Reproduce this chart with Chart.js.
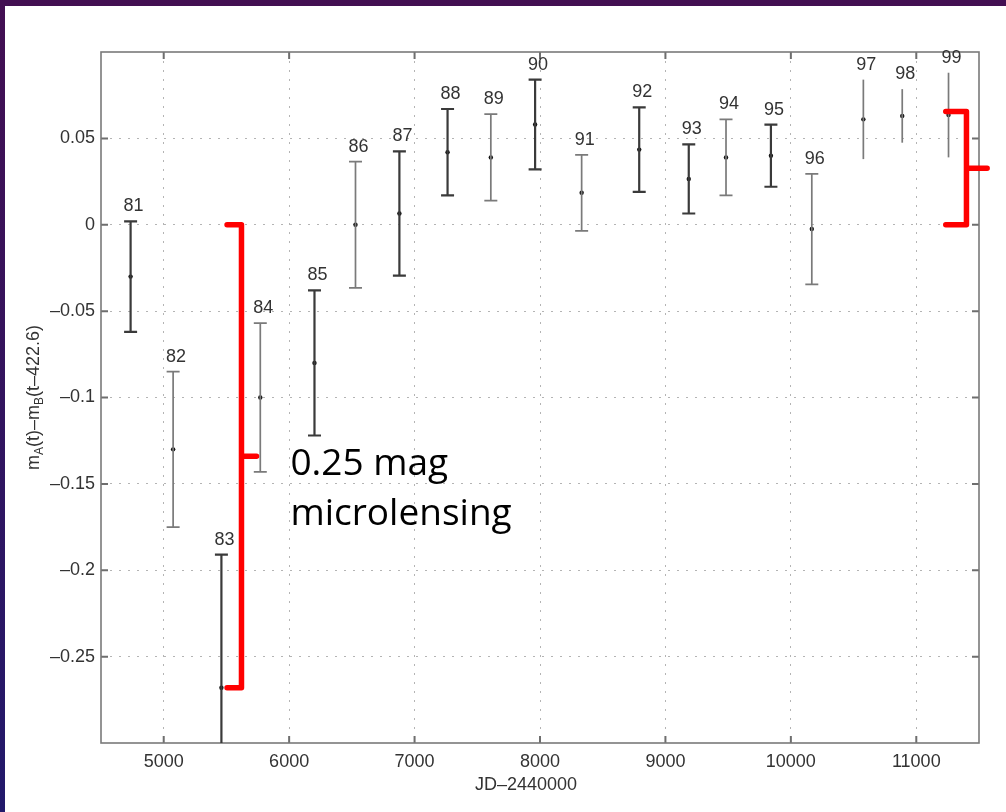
<!DOCTYPE html>
<html>
<head>
<meta charset="utf-8">
<script src="https://cdn.jsdelivr.net/npm/chart.js@4.4.1/dist/chart.umd.min.js"></script>
<style>
  html, body { margin: 0; padding: 0; }
  body {
    width: 1006px; height: 812px; overflow: hidden; position: relative;
    background: linear-gradient(to bottom, #430f52, #22196b);
  }
  #panel { position: absolute; left: 5px; top: 6px; width: 1001px; height: 806px; background: #fff; }
</style>
</head>
<body>
<div id="panel"><canvas id="mainChart" width="1001" height="806"></canvas></div>
<script>
// Dados das epocas (lente gravitacional, quasar duplo)
const epocas = ['81','82','83','84','85','86','87','88','89','90','91','92','93','94','95','96','97','98','99'];
const jd = [4736, 5075, 5460, 5770, 6202, 6529, 6879, 7263, 7608, 7961, 8332, 8791, 9186, 9483, 9841, 10167, 10578, 10888, 11257];
const dmag = [-0.030, -0.130, -0.268, -0.100, -0.080, 0.000, 0.0065, 0.042, 0.039, 0.058, 0.0185, 0.0435, 0.0265, 0.039, 0.040, -0.0025, 0.061, 0.063, 0.0635];
const erro = [0.032, 0.045, 0.077, 0.043, 0.042, 0.0365, 0.036, 0.025, 0.025, 0.026, 0.022, 0.0245, 0.020, 0.022, 0.018, 0.032, 0.023, 0.0155, 0.0245];

// Ticks dos eixos
const xTicks = [5000, 6000, 7000, 8000, 9000, 10000, 11000];
const yTicks = [-0.25, -0.2, -0.15, -0.1, -0.05, 0, 0.05];
const yTickLabels = ['\u20130.25', '\u20130.2', '\u20130.15', '\u20130.1', '\u20130.05', '0', '0.05'];

// estilo: barras mais escuras / sem tampa
const barrasEscuras = ['81','83','85','87','88','90','92','93','95'];
const semTampa = ['97','98','99'];

const fonte = '"Liberation Sans", Arial, sans-serif';

// Anotacoes em vermelho (em unidades dos eixos)
const anotacao = {
  esquerda: { x: 5620, gancho: 5505, traco: 5740, de: 0, ate: -0.268 },
  direita: { x: 11400, gancho: 11235, traco: 11565, de: 0, ate: 0.0655 },
  texto: ['0.25 mag', 'microlensing'],
  textoX: 6010,
  textoY: [-0.1446, -0.1738]
};

// 1. barras de erro + numeros das epocas
const barrasErro = {
  id: 'barrasErro',
  afterDatasetsDraw(chart) {
    const { ctx, chartArea: a, scales: { x, y } } = chart;
    ctx.save();
    ctx.beginPath();
    ctx.rect(a.left, a.top, a.right - a.left, a.bottom - a.top);
    ctx.clip();
    epocas.forEach((ep, i) => {
      const px = x.getPixelForValue(jd[i]);
      const topo = y.getPixelForValue(dmag[i] + erro[i]);
      const base = y.getPixelForValue(dmag[i] - erro[i]);
      const escura = barrasEscuras.includes(ep);
      ctx.strokeStyle = escura ? '#3a3a3a' : '#7a7a7a';
      ctx.lineWidth = escura ? 2.2 : 1.7;
      ctx.beginPath();
      ctx.moveTo(px, topo);
      ctx.lineTo(px, base);
      if (!semTampa.includes(ep)) {
        ctx.moveTo(px - 6.5, topo); ctx.lineTo(px + 6.5, topo);
        ctx.moveTo(px - 6.5, base); ctx.lineTo(px + 6.5, base);
      }
      ctx.stroke();
    });
    ctx.restore();

    ctx.save();
    ctx.font = '18px ' + fonte;
    ctx.fillStyle = '#333';
    ctx.textAlign = 'center';
    ctx.textBaseline = 'alphabetic';
    epocas.forEach((ep, i) => {
      const px = x.getPixelForValue(jd[i]);
      const topo = y.getPixelForValue(dmag[i] + erro[i]);
      ctx.fillText(ep, px + 3, topo - 10);
    });
    ctx.restore();
  }
};

// 2. moldura com ticks para dentro + titulos dos eixos
const moldura = {
  id: 'moldura',
  beforeDatasetsDraw(chart) {
    const { ctx, chartArea: a, scales: { x, y } } = chart;
    ctx.save();
    ctx.strokeStyle = '#6e6e6e';
    ctx.lineWidth = 2;
    ctx.beginPath();
    x.ticks.forEach(t => {
      const px = x.getPixelForValue(t.value);
      ctx.moveTo(px, a.bottom); ctx.lineTo(px, a.bottom - 7);
      ctx.moveTo(px, a.top); ctx.lineTo(px, a.top + 7);
    });
    y.ticks.forEach(t => {
      const py = y.getPixelForValue(t.value);
      ctx.moveTo(a.left, py); ctx.lineTo(a.left + 7, py);
      ctx.moveTo(a.right, py); ctx.lineTo(a.right - 7, py);
    });
    ctx.stroke();
    ctx.lineWidth = 1.6;
    ctx.strokeStyle = '#7a7a7a';
    ctx.strokeRect(a.left, a.top, a.right - a.left, a.bottom - a.top);
    ctx.restore();

    // titulo do eixo x
    ctx.save();
    ctx.font = '18px ' + fonte;
    ctx.fillStyle = '#333';
    ctx.textAlign = 'center';
    ctx.fillText('JD\u20132440000', (a.left + a.right) / 2 - 14, a.bottom + 47);
    ctx.restore();

    // titulo do eixo y com subscritos
    const partes = [['m', 0], ['A', 1], ['(t)\u2013m', 0], ['B', 1], ['(t\u2013422.6)', 0]];
    const fN = '18px ' + fonte, fS = '12px ' + fonte;
    ctx.save();
    let total = 0;
    partes.forEach(p => { ctx.font = p[1] ? fS : fN; total += ctx.measureText(p[0]).width; });
    ctx.translate(a.left - 62, (a.top + a.bottom) / 2);
    ctx.rotate(-Math.PI / 2);
    ctx.fillStyle = '#333';
    let cx = -total / 2;
    partes.forEach(p => {
      ctx.font = p[1] ? fS : fN;
      ctx.fillText(p[0], cx, p[1] ? 4 : 0);
      cx += ctx.measureText(p[0]).width;
    });
    ctx.restore();
  }
};

// 3. colchetes vermelhos e texto
const colchetes = {
  id: 'colchetes',
  afterDraw(chart) {
    const { ctx, scales: { x, y } } = chart;
    ctx.save();
    ctx.strokeStyle = '#ff0000';
    ctx.lineWidth = 5.5;
    ctx.lineJoin = 'round';
    ctx.lineCap = 'round';
    [anotacao.esquerda, anotacao.direita].forEach(c => {
      const px = x.getPixelForValue(c.x);
      const pg = x.getPixelForValue(c.gancho);
      const pt = x.getPixelForValue(c.traco);
      const y1 = y.getPixelForValue(c.de);
      const y2 = y.getPixelForValue(c.ate);
      ctx.beginPath();
      ctx.moveTo(pg, y1); ctx.lineTo(px, y1); ctx.lineTo(px, y2); ctx.lineTo(pg, y2);
      ctx.moveTo(px, (y1 + y2) / 2); ctx.lineTo(pt, (y1 + y2) / 2);
      ctx.stroke();
    });
    ctx.fillStyle = '#000';
    ctx.font = '37px "Open Sans", sans-serif';
    ctx.textAlign = 'left';
    anotacao.texto.forEach((t, i) => {
      ctx.fillText(t, x.getPixelForValue(anotacao.textoX), y.getPixelForValue(anotacao.textoY[i]));
    });
    ctx.restore();
  }
};

const ctx = document.getElementById('mainChart');
const chart = new Chart(ctx, {
  type: 'scatter',
  data: {
    datasets: [{
      label: 'mA - mB',
      data: jd.map((v, i) => ({ x: v, y: dmag[i] })),
      pointRadius: 2.2,
      pointBackgroundColor: '#111',
      pointBorderWidth: 0
    }]
  },
  options: {
    responsive: false,
    animation: false,
    devicePixelRatio: 1,
    layout: { padding: { left: 0, right: 27, top: 46, bottom: 0 } },
    plugins: { legend: { display: false }, tooltip: { enabled: false } },
    scales: {
      x: {
        type: 'linear',
        min: 4500,
        max: 11500,
        afterBuildTicks: s => { s.ticks = xTicks.map(v => ({ value: v })); },
        afterFit: s => { s.height = 69; },
        grid: { color: '#b4b4b4', lineWidth: 1, drawTicks: false },
        border: { display: false, dash: [2, 7] },
        ticks: { color: '#333', font: { family: fonte, size: 18 }, padding: 8, maxRotation: 0, callback: v => String(v) }
      },
      y: {
        type: 'linear',
        min: -0.3,
        max: 0.1,
        afterBuildTicks: s => { s.ticks = yTicks.map(v => ({ value: v })); },
        afterFit: s => { s.width = 96; },
        grid: { color: '#b4b4b4', lineWidth: 1, drawTicks: false },
        border: { display: false, dash: [2, 7] },
        ticks: { color: '#333', font: { family: fonte, size: 18 }, padding: 6, callback: (v, i) => yTickLabels[i] }
      }
    }
  },
  plugins: [moldura, barrasErro, colchetes]
});
</script>
</body>
</html>
